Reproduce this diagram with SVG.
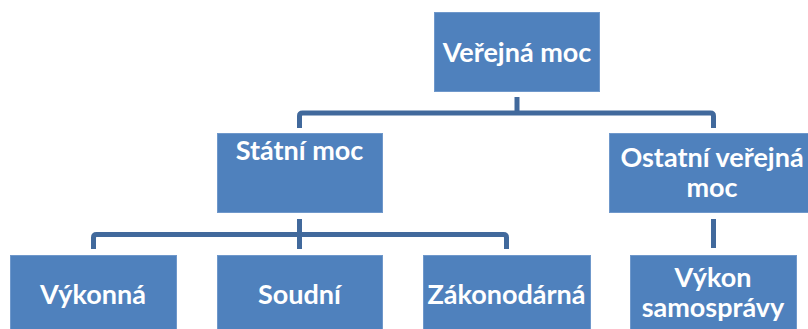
<svg xmlns="http://www.w3.org/2000/svg" width="808" height="329" viewBox="0 0 808 329">
<style>
.box{fill:#4F81BD;stroke:#6F98CB;stroke-width:1}
.lbl{font-family:Lato,"Liberation Sans",sans-serif;font-weight:bold;font-size:27px;fill:#FFFFFF;text-anchor:middle}
.conn{fill:none;stroke:#41699C;stroke-width:5;stroke-linejoin:round}
</style>
<rect width="808" height="329" fill="#FFFFFF"/>
<g id="connectors">
<path class="conn" d="M517 97 V113"/>
<path class="conn" d="M299.5 128 V116 Q299.5 113 302.5 113 H710.5 Q713.5 113 713.5 116 V128"/>
<path class="conn" d="M299.5 219 V249"/>
<path class="conn" d="M93.5 249 V237.5 Q93.5 234.5 96.5 234.5 H503.5 Q506.5 234.5 506.5 237.5 V249"/>
<path class="conn" d="M713.5 219 V248"/>
</g>
<g id="verejna-moc"><rect class="box" x="434.5" y="12.5" width="165" height="79"/><text class="lbl" x="517" y="62">Veřejná moc</text></g>
<g id="statni-moc"><rect class="box" x="217.5" y="133.5" width="165" height="79"/><text class="lbl" x="299.5" y="160">Státní moc</text></g>
<g id="ostatni-verejna-moc"><rect class="box" x="609.5" y="133.5" width="200" height="79"/><text class="lbl" x="712" y="167">Ostatní veřejná</text><text class="lbl" x="712" y="197">moc</text></g>
<g id="vykonna"><rect class="box" x="10.5" y="255.5" width="166" height="80"/><text class="lbl" x="93" y="304">Výkonná</text></g>
<g id="soudni"><rect class="box" x="217.5" y="255.5" width="165" height="80"/><text class="lbl" x="299.5" y="304">Soudní</text></g>
<g id="zakonodarna"><rect class="box" x="423.5" y="255.5" width="167" height="80"/><text class="lbl" x="506.5" y="304">Zákonodárná</text></g>
<g id="vykon-samospravy"><rect class="box" x="630.5" y="255.5" width="166" height="80"/><text class="lbl" x="713" y="287">Výkon</text><text class="lbl" x="713" y="317">samosprávy</text></g>
</svg>
